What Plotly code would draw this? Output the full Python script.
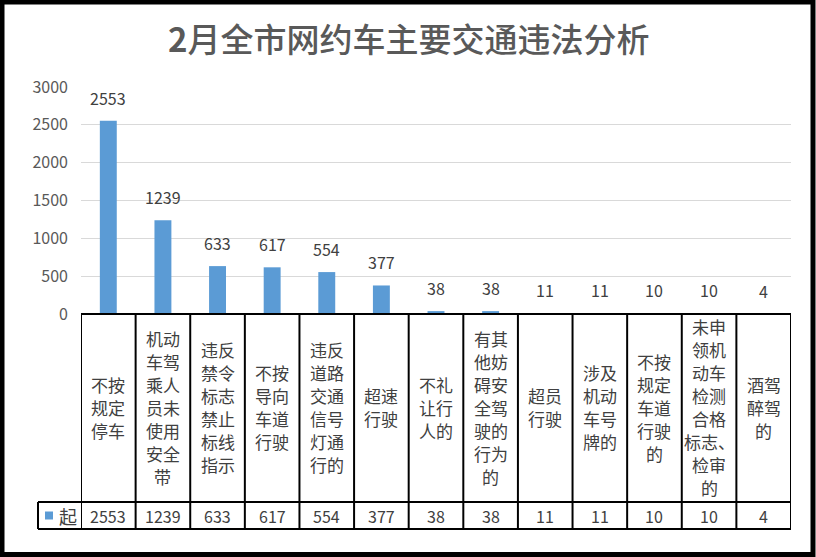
import plotly.graph_objects as go

W, H = 816, 557

title_num = "2"
title_text = "月全市网约车主要交通违法分析"
series_name = "起"
categories = [
    "不按规定停车",
    "机动车驾乘人员未使用安全带",
    "违反禁令标志禁止标线指示",
    "不按导向车道行驶",
    "违反道路交通信号灯通行的",
    "超速行驶",
    "不礼让行人的",
    "有其他妨碍安全驾驶的行为的",
    "超员行驶",
    "涉及机动车号牌的",
    "不按规定车道行驶的",
    "未申领机动车检测合格标志、检审的",
    "酒驾醉驾的",
]
values = [2553, 1239, 633, 617, 554, 377, 38, 38, 11, 11, 10, 10, 4]
y_ticks = [0, 500, 1000, 1500, 2000, 2500, 3000]

BLUE = "#5B9BD5"
FONT = "Noto Sans CJK SC"


def px_x(x):
    return x / W


def px_y(y):
    return 1 - y / H


def wrap2(s):
    parts = []
    i = 0
    while i < len(s):
        chunk = s[i:i + 2]
        i += 2
        while i < len(s) and s[i] in "、，。":
            chunk += s[i]
            i += 1
        parts.append(chunk)
    return parts


# plot area pixel geometry
X0, X1 = 81, 791
Y_TOP, Y_ZERO = 87, 314
Y_MID, Y_BOT = 502, 529
LEG_X = 38
LINE_H = 23

fig = go.Figure()
fig.add_trace(go.Bar(
    x=list(range(len(categories))),
    y=values,
    width=0.31,
    marker=dict(color=BLUE, line=dict(width=0)),
    name=series_name,
    showlegend=False,
    hoverinfo="skip",
))

annotations = []
# title
annotations.append(dict(
    text="<b>" + title_num + "</b>" + title_text, x=0.5, y=px_y(38), xref="paper", yref="paper",
    xanchor="center", yanchor="middle", showarrow=False,
    font=dict(family=FONT, size=33, color="#595959", weight=500),
))
# data labels
for i, v in enumerate(values):
    annotations.append(dict(
        text=str(v), x=i, y=v, xref="x", yref="y",
        xanchor="center", yanchor="middle", yshift=23, showarrow=False,
        font=dict(family=FONT, size=16, color="#404040"),
    ))
# table category texts & values
cell_c = (Y_ZERO + Y_MID) / 2 - 1
for i, (c, v) in enumerate(zip(categories, values)):
    lines = wrap2(c)
    n = len(lines)
    for k, ln in enumerate(lines):
        yc = cell_c + (k - (n - 1) / 2) * LINE_H
        annotations.append(dict(
            text=ln, x=i, y=px_y(yc), xref="x", yref="paper",
            xanchor="center", yanchor="middle", showarrow=False, align="center",
            font=dict(family=FONT, size=17, color="#404040"),
        ))
    annotations.append(dict(
        text=str(v), x=i, y=px_y((Y_MID + Y_BOT) / 2), xref="x", yref="paper",
        xanchor="center", yanchor="middle", showarrow=False,
        font=dict(family=FONT, size=16, color="#404040"),
    ))
# legend text
annotations.append(dict(
    text=series_name, x=px_x(57), y=px_y((Y_MID + Y_BOT) / 2), xref="paper", yref="paper",
    xanchor="left", yanchor="middle", showarrow=False,
    font=dict(family=FONT, size=18, color="#404040"),
))

shapes = []
LC = "black"
LW = 2
# horizontal table lines
shapes.append(dict(type="line", xref="paper", yref="paper", x0=px_x(X0), x1=px_x(X1),
                   y0=px_y(Y_ZERO), y1=px_y(Y_ZERO), line=dict(color=LC, width=LW)))
for yy in (Y_MID, Y_BOT):
    shapes.append(dict(type="line", xref="paper", yref="paper", x0=px_x(LEG_X), x1=px_x(X1),
                       y0=px_y(yy), y1=px_y(yy), line=dict(color=LC, width=LW)))
# vertical table lines at category boundaries
for i in range(len(categories) + 1):
    shapes.append(dict(type="line", xref="x", yref="paper", x0=i - 0.5, x1=i - 0.5,
                       y0=px_y(Y_ZERO), y1=px_y(Y_BOT), line=dict(color=LC, width=LW)))
shapes.append(dict(type="line", xref="paper", yref="paper", x0=px_x(LEG_X), x1=px_x(LEG_X),
                   y0=px_y(Y_MID), y1=px_y(Y_BOT), line=dict(color=LC, width=LW)))
# legend key
shapes.append(dict(type="rect", xref="paper", yref="paper", x0=px_x(45), x1=px_x(53),
                   y0=px_y(519.5), y1=px_y(511.5), fillcolor=BLUE, line=dict(width=0)))
# outer border
shapes.append(dict(type="rect", xref="paper", yref="paper", x0=px_x(2), x1=px_x(813),
                   y0=px_y(554.5), y1=px_y(2), line=dict(color="black", width=5)))

fig.update_layout(
    width=W, height=H,
    margin=dict(l=0, r=0, t=0, b=0),
    paper_bgcolor="white", plot_bgcolor="white",
    template="none",
    showlegend=False,
    annotations=annotations,
    shapes=shapes,
    xaxis=dict(domain=[px_x(X0), px_x(X1)], range=[-0.5, len(categories) - 0.5],
               showticklabels=False, showgrid=False, zeroline=False, showline=False,
               ticks="", automargin=False, fixedrange=True),
    yaxis=dict(domain=[px_y(Y_ZERO), px_y(Y_TOP)], range=[0, 3000], tickvals=y_ticks,
               showgrid=True, gridcolor="#D9D9D9", gridwidth=1, zeroline=False,
               showline=False, ticks="", automargin=False, ticklabelstandoff=12,
               tickfont=dict(family=FONT, size=16, color="#595959"), fixedrange=True),
)

fig.write_html("out.html")
